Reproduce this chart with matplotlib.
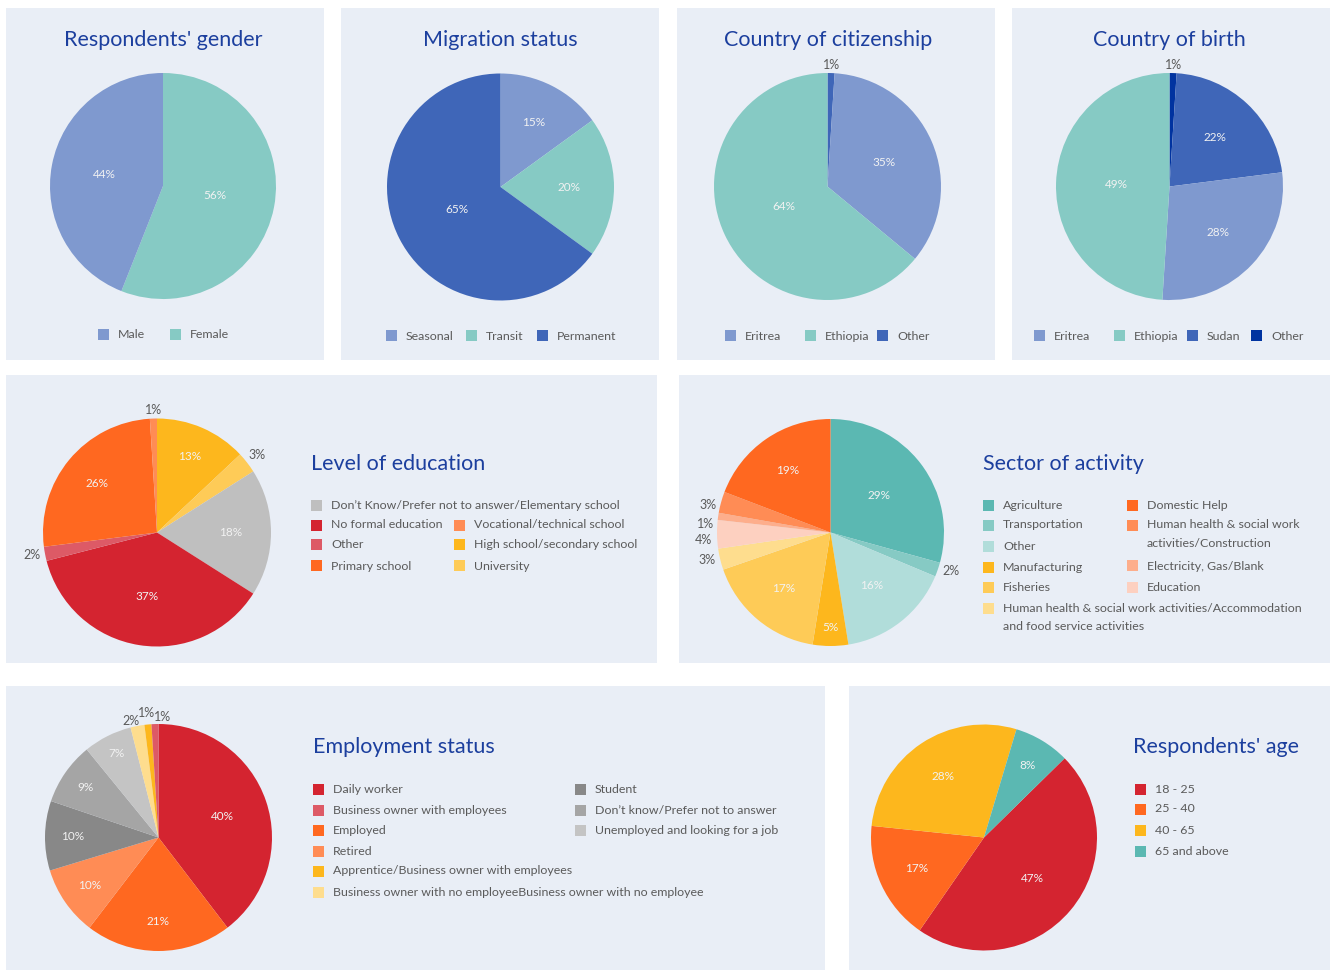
import textwrap
import matplotlib
matplotlib.use("Agg")
import matplotlib.pyplot as plt
from matplotlib.patches import Rectangle
import numpy as np

plt.rcParams['font.family'] = ['Lato', 'DejaVu Sans']

W, H = 1332, 972
PANEL_BG = '#E9EEF6'
TITLE_COL = '#1C3F9E'
TEXT_COL = '#5A5A5A'
INNER_COL = '#F2F2F2'

# ---- data ----
gender_labels = ['Male', 'Female']
gender_values = [44, 56]

migration_labels = ['Seasonal', 'Transit', 'Permanent']
migration_values = [15, 20, 65]

citizenship_labels = ['Eritrea', 'Ethiopia', 'Other']
citizenship_values = [35, 64, 1]

birth_labels = ['Eritrea', 'Ethiopia', 'Sudan', 'Other']
birth_values = [28, 49, 22, 1]

education_labels = ['Don\u2019t Know/Prefer not to answer/Elementary school',
                    'No formal education', 'Other', 'Primary school',
                    'Vocational/technical school', 'High school/secondary school',
                    'University']
education_values = [18, 37, 2, 26, 1, 13, 3]

sector_labels = ['Agriculture', 'Transportation', 'Other', 'Manufacturing', 'Fisheries',
                 'Human health & social work activities/Accommodation and food service activities',
                 'Domestic Help', 'Human health & social work activities/Construction',
                 'Electricity, Gas/Blank', 'Education']
sector_values = [29, 2, 16, 5, 17, 3, 19, 3, 1, 4]

employment_labels = ['Daily worker', 'Business owner with employees', 'Employed', 'Retired',
                     'Apprentice/Business owner with employees',
                     'Business owner with no employeeBusiness owner with no employee',
                     'Student', 'Don\u2019t know/Prefer not to answer',
                     'Unemployed and looking for a job']
employment_values = [40, 1, 21, 10, 1, 2, 10, 9, 7]

age_labels = ['18 - 25', '25 - 40', '40 - 65', '65 and above']
age_values = [47, 17, 28, 8]

# ---- palettes ----
BLUE_L, TEAL, BLUE_D, NAVY = '#7F99CF', '#86CAC4', '#3F66B8', '#0033A0'
RED, PINK, ORANGE, ORANGE_L = '#D42430', '#DD5A66', '#FF6820', '#FF8C55'
YEL, YEL_L, YEL_P = '#FDB71D', '#FECB57', '#FEDD8E'
SALMON, PEACH = '#FDAE8C', '#FDD0C0'
TEAL_D, TEAL_P = '#5BB8B2', '#B1DDDA'
GREY_D, GREY_M, GREY_L, GREY = '#888888', '#A5A5A5', '#C4C4C4', '#BFBFBF'

fig = plt.figure(figsize=(W / 100, H / 100), dpi=100)


def fx(x):
    return x / W


def fy(y):
    return 1 - y / H


def panel(x, y, w, h):
    fig.add_artist(Rectangle((fx(x), fy(y + h)), w / W, h / H, transform=fig.transFigure,
                             facecolor=PANEL_BG, edgecolor='none', zorder=-5))


def legend(labels, colors, slots, wraps):
    # slots: (square left x, row centre y) in pixels
    for lab, col, (x, y), wrap in zip(labels, colors, slots, wraps):
        fig.add_artist(Rectangle((fx(x), fy(y + 5.5)), 11 / W, 11 / H,
                                 transform=fig.transFigure, facecolor=col,
                                 edgecolor='none'))
        lines = textwrap.wrap(lab, wrap) if wrap else [lab]
        for i, line in enumerate(lines):
            fig.text(fx(x + 20), fy(y + i * 18.5), line, ha='left', va='center',
                     fontsize=8.9, color=TEXT_COL)


def pie(spec):
    cx, cy = spec['centre']
    r = spec['radius']
    ax = fig.add_axes([fx(cx - r), fy(cy + r), 2 * r / W, 2 * r / H])

    order = spec['order']
    vals = [spec['values'][i] for i in order]
    cols = [spec['colors'][i] for i in order]
    wedges, _ = ax.pie(vals, colors=cols, startangle=spec['start'], counterclock=False,
                       radius=1, wedgeprops=dict(linewidth=0.3, edgecolor='none'))
    # pie() pads the limits to 1.25, pull them back so the disc fills the box
    ax.set_xlim(-1, 1)
    ax.set_ylim(-1, 1)
    ax.axis('off')
    ax.patch.set_visible(False)

    for w, i in zip(wedges, order):
        mid = np.deg2rad((w.theta1 + w.theta2) / 2)
        c, s = np.cos(mid), np.sin(mid)
        txt = f"{spec['values'][i]}%"
        lr = spec['label_r'][i]
        if lr is not None:
            ax.text(lr * c, lr * s, txt, ha='center', va='center', fontsize=8.5,
                    color=INNER_COL, clip_on=False)
        else:
            dx, dy = spec.get('nudge', {}).get(i, (0, 0))
            ha = 'left' if c > 0.25 else ('right' if c < -0.25 else 'center')
            va = 'bottom' if s > 0.5 else ('top' if s < -0.5 else 'center')
            ro = 1.02 if va != 'center' else 1.04
            ax.text(ro * c + dx / r, ro * s - dy / r, txt, ha=ha, va=va,
                    fontsize=9, color=TEXT_COL, clip_on=False)


# panel backgrounds
for box in [(6, 8, 318, 352), (341, 8, 318, 352), (677, 8, 318, 352), (1012, 8, 318, 352),
            (6, 375, 651, 288), (679, 375, 651, 288), (6, 686, 819, 284), (849, 686, 481, 284)]:
    panel(*box)

charts = [
    dict(title="Respondents' gender", title_at=(163, 40, 'center'),
         labels=gender_labels, values=gender_values, colors=[BLUE_L, TEAL],
         order=[1, 0], start=90, centre=(163, 186), radius=113,
         label_r=[.53, .47],
         slots=[(98, 335), (170, 335)]),
    dict(title='Migration status', title_at=(500, 40, 'center'),
         labels=migration_labels, values=migration_values, colors=[BLUE_L, TEAL, BLUE_D],
         order=[0, 1, 2], start=90, centre=(500.5, 187), radius=113.5,
         label_r=[.64, .60, .43],
         slots=[(386, 336), (466, 336), (537, 336)]),
    dict(title='Country of citizenship', title_at=(828, 40, 'center'),
         labels=citizenship_labels, values=citizenship_values, colors=[BLUE_L, TEAL, BLUE_D],
         order=[2, 0, 1], start=90, centre=(827.5, 186.5), radius=113.5,
         label_r=[.54, .42, None],
         slots=[(725, 336), (805, 336), (877, 336)]),
    dict(title='Country of birth', title_at=(1169, 40, 'center'),
         labels=birth_labels, values=birth_values, colors=[BLUE_L, TEAL, BLUE_D, NAVY],
         order=[3, 2, 0, 1], start=90, centre=(1169.5, 186.5), radius=113.5,
         label_r=[.59, .47, .59, None],
         slots=[(1034, 336), (1114, 336), (1187, 336), (1251, 336)]),
    dict(title='Level of education', title_at=(311, 464, 'left'),
         labels=education_labels, values=education_values,
         colors=[GREY, RED, PINK, ORANGE, ORANGE_L, YEL, YEL_L],
         order=[5, 6, 0, 1, 2, 3, 4], start=90, centre=(157, 532.5), radius=114,
         label_r=[.65, .57, None, .68, None, .73, None],
         slots=[(311, 505), (311, 525), (311, 545), (311, 566),
                (454, 525), (454, 545), (454, 566)]),
    dict(title='Sector of activity', title_at=(983, 464, 'left'),
         labels=sector_labels, values=sector_values,
         colors=[TEAL_D, TEAL, TEAL_P, YEL, YEL_L, YEL_P, ORANGE, ORANGE_L, SALMON, PEACH],
         order=[0, 1, 2, 3, 4, 5, 9, 8, 7, 6], start=90, centre=(830.5, 532.5), radius=113.5,
         label_r=[.54, None, .59, .84, .64, None, .66, None, None, None],
         nudge={9: (0, 5.5), 8: (0, 8), 7: (0, 4)},
         slots=[(983, 505), (983, 525), (983, 546), (983, 567), (983, 587), (983, 608),
                (1127, 505), (1127, 525), (1127, 566), (1127, 587)],
         wraps=[None] * 5 + [52, None, 26, None, None]),
    dict(title='Employment status', title_at=(313, 747, 'left'),
         labels=employment_labels, values=employment_values,
         colors=[RED, PINK, ORANGE, ORANGE_L, YEL, YEL_P, GREY_D, GREY_M, GREY_L],
         order=[0, 2, 3, 6, 7, 8, 5, 4, 1], start=90, centre=(158.5, 837.5), radius=113.5,
         label_r=[.59, None, .74, .74, None, None, .76, .78, .83],
         nudge={5: (-6, 3), 4: (-1.5, -3.5), 1: (8, 1.5)},
         slots=[(313, 789), (313, 810), (313, 830), (313, 851), (313, 871), (313, 892),
                (575, 789), (575, 810), (575, 830)]),
    dict(title="Respondents' age", title_at=(1133, 747, 'left'),
         labels=age_labels, values=age_values, colors=[RED, ORANGE, YEL, TEAL_D],
         order=[0, 1, 2, 3], start=44.5, centre=(984, 837.5), radius=113,
         label_r=[.56, .66, .65, .74],
         slots=[(1135, 789), (1135, 809), (1135, 830), (1135, 851)]),
]

for spec in charts:
    pie(spec)
    tx, ty, ha = spec['title_at']
    fig.text(fx(tx), fy(ty), spec['title'], ha=ha, va='center', fontsize=15.5, color=TITLE_COL)
    legend(spec['labels'], spec['colors'], spec['slots'],
           spec.get('wraps', [None] * len(spec['labels'])))

fig.savefig('out.png', dpi=100, facecolor='white')
